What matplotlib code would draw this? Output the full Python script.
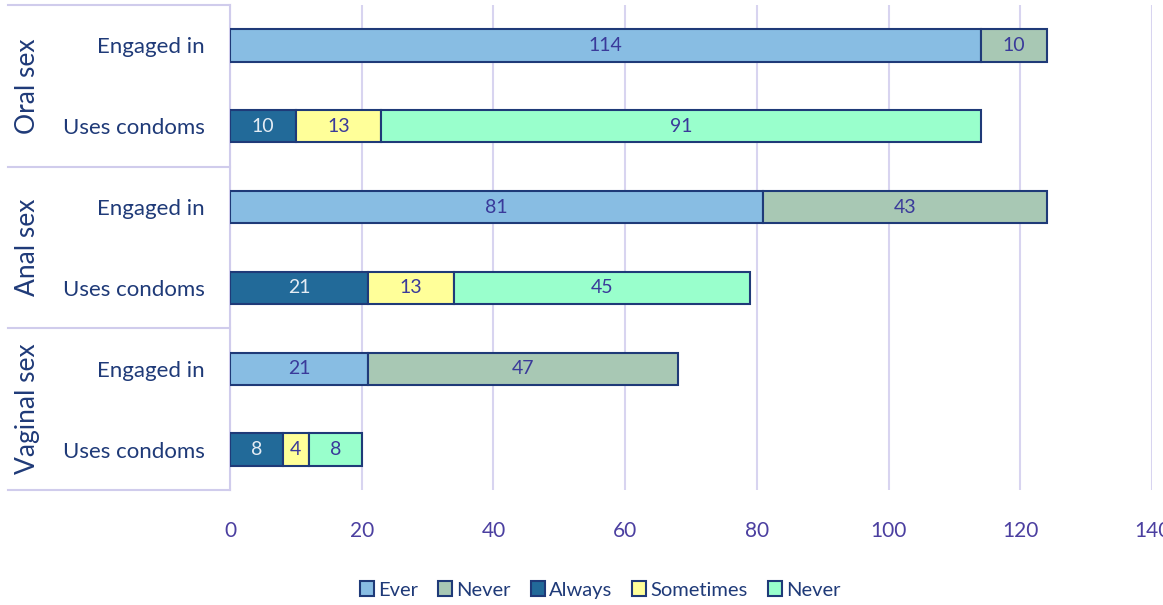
import matplotlib.pyplot as plt
import matplotlib.transforms as mtransforms
from matplotlib.patches import Patch
import numpy as np

plt.rcParams['font.family'] = ['Lato', 'DejaVu Sans']

groups = ["Oral sex", "Anal sex", "Vaginal sex"]
rows = ["Engaged in", "Uses condoms"] * 3

# engaged in rows: ever / never
ever = [114, 81, 21]
never_eng = [10, 43, 47]
# uses condoms rows: always / sometimes / never
always = [10, 21, 8]
sometimes = [13, 13, 4]
never_cond = [91, 45, 8]

legend_labels = ["Ever", "Never", "Always", "Sometimes", "Never"]
colors = ["#88BDE3", "#A8C8B4", "#226A99", "#FFFF99", "#99FFCC"]
edge = "#1F3A78"
txt = "#3A3A9A"

fig = plt.figure(figsize=(11.63, 6.05), dpi=100)
ax = fig.add_axes([230 / 1163, 1 - 490 / 605, 922 / 1163, 485 / 605])

h = 0.4
eng_y = np.array([0, 2, 4])
cond_y = np.array([1, 3, 5])

def seg(y, left, w, color, tcolor):
    ax.barh(y, w, left=left, height=h, color=color, edgecolor=edge, linewidth=1.5, zorder=3)
    for yy, l, ww in zip(y, left, w):
        ax.text(l + ww / 2, yy, str(ww), ha="center", va="center", fontsize=14, color=tcolor, zorder=4)

zero = np.zeros(3)
seg(eng_y, zero, np.array(ever), colors[0], txt)
seg(eng_y, np.array(ever), np.array(never_eng), colors[1], txt)
a = np.array(always); s = np.array(sometimes)
seg(cond_y, zero, a, colors[2], "#E4ECF4")
seg(cond_y, a, s, colors[3], txt)
seg(cond_y, a + s, np.array(never_cond), colors[4], txt)

ax.set_xlim(0, 140)
ax.set_ylim(5.5, -0.5)
ax.set_xticks(range(0, 141, 20))
ax.set_yticks(range(6))
ax.set_yticklabels(rows, fontsize=16, color="#1F3A78")
ax.tick_params(axis="y", length=0, pad=18)
ax.tick_params(axis="x", length=0, pad=22, labelsize=15, labelcolor="#4B3FA0")
ax.grid(axis="x", color="#D8D4F0", linewidth=1.5, zorder=0)
for sp in ax.spines.values():
    sp.set_visible(False)

# left category box
trans = mtransforms.blended_transform_factory(ax.transAxes, ax.transData)
xl = (8 - 230) / 922
for yb in [-0.5, 1.5, 3.5, 5.5]:
    ax.plot([xl, 0], [yb, yb], transform=trans, color="#D0CCEC", lw=1.5, clip_on=False)
ax.plot([0, 0], [-0.5, 5.5], transform=trans, color="#D0CCEC", lw=1.5, clip_on=False)
for i, g in enumerate(groups):
    ax.text((28 - 230) / 922, 2 * i + 0.5, g, transform=trans, rotation=90, ha="center", va="center",
            fontsize=19, color="#1F3A78")

handles = [Patch(facecolor=c, edgecolor=edge, linewidth=1.5) for c in colors]
fig.legend(handles, legend_labels, loc="center", bbox_to_anchor=(600 / 1163, 1 - 590 / 605), ncol=5,
           frameon=False, fontsize=14.5, handlelength=0.7, handleheight=0.7, handletextpad=0.2,
           columnspacing=1.0, labelcolor="#1F3A78")

fig.savefig("out.png", dpi=100)
